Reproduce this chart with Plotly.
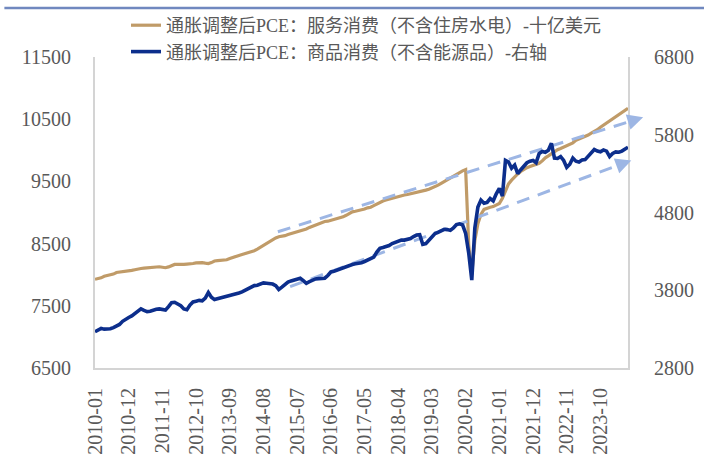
import numpy as np
import plotly.graph_objects as go

## monthly categories 2010-01 .. 2024-07
months = [f"{y}-{m:02d}" for y in range(2010, 2025) for m in range(1, 13)][:175]

# 通胀调整后PCE: 服务消费（不含住房水电）, 十亿美元, left axis
services = [
    7926, 7935, 7950, 7975, 7985, 7990, 8010, 8035, 8040, 8045, 8055, 8062,
    8070, 8080, 8095, 8100, 8105, 8110, 8115, 8120, 8130, 8128, 8120, 8112,
    8125, 8145, 8165, 8168, 8160, 8165, 8170, 8172, 8180, 8190, 8198, 8195,
    8185, 8178, 8195, 8220, 8225, 8230, 8235, 8240, 8260, 8280, 8300, 8310,
    8325, 8340, 8350, 8365, 8385, 8410, 8440, 8470, 8505, 8530, 8560, 8590,
    8610, 8615, 8628, 8645, 8660, 8675, 8690, 8700, 8718, 8735, 8760, 8780,
    8800, 8825, 8840, 8855, 8860, 8875, 8890, 8900, 8908, 8930, 8955, 8980,
    9010, 9020, 9030, 9045, 9055, 9075, 9085, 9110, 9140, 9160, 9185, 9200,
    9215, 9230, 9245, 9260, 9275, 9282, 9290, 9300, 9310, 9320, 9335, 9345,
    9360, 9375, 9395, 9415, 9440, 9470, 9500, 9520, 9550, 9585, 9620, 9650,
    9670, 9690, 8480, 8000, 8550, 8820, 8970, 9050, 9070, 9085, 9095, 9120,
    9145, 9230, 9340, 9460, 9520, 9580, 9620, 9660, 9695, 9720, 9740, 9755,
    9765, 9790, 9830, 9880, 9910, 9945, 9985, 10010, 10030, 10055, 10080, 10095,
    10120, 10160, 10180, 10200, 10220, 10245, 10275, 10300, 10330, 10370, 10405, 10435,
    10465, 10500, 10535, 10570, 10605, 10640, 10675,
]

# 通胀调整后PCE: 商品消费（不含能源品）, right axis
goods = [
    3267, 3285, 3310, 3300, 3298, 3305, 3320, 3345, 3360, 3400, 3430, 3450,
    3470, 3500, 3540, 3560, 3540, 3525, 3530, 3545, 3555, 3560, 3550, 3545,
    3590, 3640, 3645, 3625, 3600, 3560, 3550, 3610, 3650, 3660, 3670, 3665,
    3700, 3770, 3710, 3680, 3690, 3700, 3705, 3715, 3725, 3740, 3745, 3765,
    3780, 3800, 3830, 3845, 3860, 3865, 3880, 3895, 3890, 3885, 3880, 3860,
    3810, 3840, 3880, 3905, 3920, 3930, 3945, 3955, 3925, 3890, 3910, 3930,
    3945, 3950, 3948, 3955, 3990, 4035, 4045, 4060, 4070, 4090, 4110, 4125,
    4130, 4140, 4145, 4155, 4170, 4190, 4205, 4225, 4290, 4340, 4350, 4360,
    4375, 4400, 4415, 4430, 4446, 4445, 4450, 4465, 4490, 4510, 4515, 4390,
    4400, 4445, 4490, 4530, 4545, 4570, 4584, 4580, 4570, 4600, 4645, 4655,
    4640, 4530, 4280, 3930, 4600, 4870, 4960, 4920, 4930, 4980, 4950, 5040,
    5110, 5010, 5470, 5450, 5370, 5410, 5300, 5350, 5390, 5440, 5460, 5470,
    5440, 5560, 5585, 5575, 5600, 5690, 5500, 5495, 5520, 5470, 5380, 5420,
    5500, 5460, 5450, 5475, 5480, 5520, 5560, 5610, 5590, 5580, 5605, 5590,
    5520, 5560, 5580, 5575, 5590, 5610, 5640,
]

# hand-drawn trend arrows (month index, value); heads sit just past the right axis
trend_up_x = [59.7, 180.2]
trend_up_y = [8691, 10551]        # left axis
trend_low_x = [63.7, 176.3]
trend_low_y = [3846, 5488]        # right axis

tick_labels = months[::11]

FONT = "Liberation Serif, Noto Sans CJK SC"
GOLD = "#C09B68"
NAVY = "#0C2E8C"
ARROW = "#9DB6E4"
Y1 = [6500, 11500]
Y2 = [2800, 6800]
N = len(months)
ML, MR, MT, MB = 95, 76, 57, 86
W, H = 704 - ML - MR, 454 - MT - MB

xs = np.arange(N)

fig = go.Figure()
fig.add_trace(go.Scatter(x=xs, y=services, mode="lines", name="通胀调整后PCE：服务消费（不含住房水电）-十亿美元",
                         line=dict(color=GOLD, width=3.2)))
annots = []
for tx, ty, ax, rng in [(trend_up_x, trend_up_y, "y", Y1), (trend_low_x, trend_low_y, "y2", Y2)]:
    fig.add_trace(go.Scatter(x=tx, y=ty, yaxis=ax, mode="lines", showlegend=False,
                             line=dict(color=ARROW, width=3, dash="13px,9px")))
    # arrow head: annotations on data refs vanish off-range, so place it in paper units
    px = [v / (N - 1) for v in tx]
    py = [(v - rng[0]) / (rng[1] - rng[0]) for v in ty]
    dx, dy = (px[1] - px[0]) * W, (py[1] - py[0]) * H
    d = (dx ** 2 + dy ** 2) ** 0.5
    ux, uy = dx / d, dy / d
    annots.append(dict(x=px[1] - ux * 4 / W, y=py[1] - uy * 4 / H, xref="paper", yref="paper",
                       ax=-ux * 10, ay=uy * 10, text="", showarrow=True,
                       arrowhead=2, arrowsize=1.05, arrowwidth=3, arrowcolor=ARROW))
fig.add_trace(go.Scatter(x=xs, y=goods, yaxis="y2", mode="lines", name="通胀调整后PCE：商品消费（不含能源品）-右轴",
                         line=dict(color=NAVY, width=3.6)))

axis_line = dict(showline=True, linecolor="#D4D4D4", linewidth=2, showgrid=False, zeroline=False,
                 ticks="", automargin=False, tickfont=dict(family=FONT, size=20, color="#595959"))

fig.update_layout(
    width=704, height=454,
    margin=dict(l=ML, r=MR, t=MT, b=MB, autoexpand=False),
    paper_bgcolor="white", plot_bgcolor="white",
    font=dict(family=FONT, color="#595959"),
    showlegend=True,
    legend=dict(x=(126 - ML) / W, y=(454 - MB - 7) / H, xanchor="left", yanchor="top",
                bgcolor="rgba(0,0,0,0)", font=dict(family=FONT, size=18, color="#595959"),
                tracegroupgap=0),
    xaxis=dict(axis_line, range=[0, N - 1], tickmode="array",
               tickvals=[months.index(t) for t in tick_labels], ticktext=tick_labels,
               tickangle=-90, ticklabelstandoff=10),
    yaxis=dict(axis_line, range=Y1, tick0=6500, dtick=1000, tickformat="d", ticklabelstandoff=18),
    yaxis2=dict(axis_line, overlaying="y", side="right", range=Y2, tick0=2800, dtick=1000,
                tickformat="d", ticklabelstandoff=20),
    annotations=annots,
    shapes=[dict(type="line", xref="paper", yref="paper", x0=-0.17, x1=1.15,
                 y0=(454 - MB - 8) / H, y1=(454 - MB - 8) / H,
                 line=dict(color="#7088BF", width=2.5))],
)

fig.write_html("out.html", config={"displayModeBar": False},
               post_script="document.body.style.margin='0px';")
